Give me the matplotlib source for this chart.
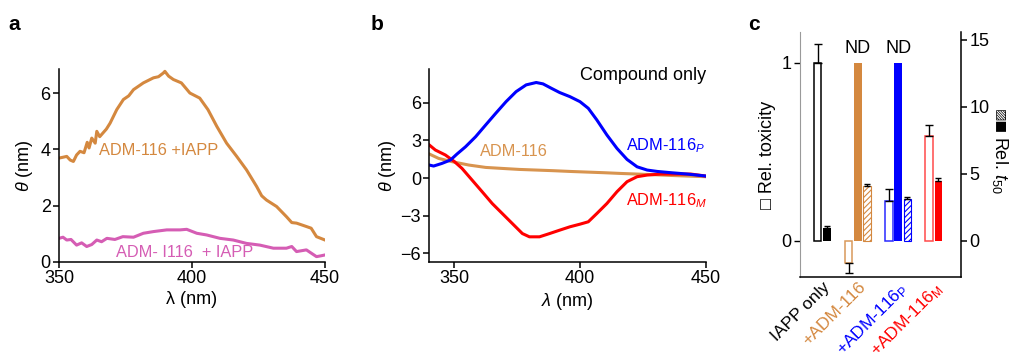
import matplotlib
matplotlib.use("Agg")
import matplotlib.pyplot as plt
import numpy as np

plt.rcParams['font.family'] = ['Liberation Sans', 'DejaVu Sans']
plt.rcParams['mathtext.fontset'] = 'custom'
plt.rcParams['mathtext.rm'] = 'Liberation Sans'
plt.rcParams['mathtext.it'] = 'Liberation Sans:italic'
plt.rcParams['mathtext.bf'] = 'Liberation Sans:bold'
plt.rcParams['hatch.linewidth'] = 0.8

# ---------------- data: panel a ----------------
a_wl_orange = [350, 351.5, 352.9, 354.2, 355.4, 356.6, 357.9, 359.4, 360.6, 361.3, 362.3,
               363.6, 364.2, 365.3, 366.5, 367.8, 369.2, 371.7, 374.2, 376.2, 378, 381.7,
               385.5, 387.4, 389.2, 389.8, 391.2, 393, 396, 399.2, 402.9, 406, 409.3, 413,
               416.8, 420.5, 424.3, 426.2, 428, 431.8, 435.5, 437.5, 439.3, 443, 444.8,
               446.8, 450]
a_th_orange = [3.69, 3.72, 3.75, 3.62, 3.57, 3.80, 3.93, 3.88, 4.25, 4.05, 4.40,
               4.22, 4.64, 4.45, 4.58, 4.72, 4.93, 5.41, 5.77, 5.90, 6.12, 6.36,
               6.54, 6.58, 6.71, 6.77, 6.60, 6.48, 6.36, 6.00, 5.82, 5.41, 4.82, 4.22,
               3.75, 3.27, 2.68, 2.35, 2.20, 1.97, 1.61, 1.40, 1.38, 1.26, 1.20,
               0.90, 0.78]
a_wl_magenta = [350, 351.5, 352.9, 354.5, 356.6, 358.5, 360.4, 362.3, 364.2, 366, 368, 371,
                374, 378, 381.7, 385.5, 390.5, 395.5, 398, 401.8, 405.5, 410.5, 415.5,
                420.5, 425.5, 430.6, 435.5, 437.5, 439.3, 443, 446.8, 448.5, 450]
a_th_magenta = [0.84, 0.88, 0.78, 0.80, 0.60, 0.68, 0.55, 0.62, 0.78, 0.72, 0.84, 0.80,
                0.90, 0.88, 1.02, 1.08, 1.14, 1.14, 1.16, 1.02, 0.96, 0.84, 0.78,
                0.66, 0.60, 0.49, 0.49, 0.55, 0.37, 0.43, 0.19, 0.22, 0.25]

# ---------------- data: panel b ----------------
b_wl_blue = [340, 341.7, 345, 348.4, 351, 354.4, 358.4, 362.4, 366.4, 370.5, 374.5, 378.5,
             382.5, 385.2, 388.5, 391.8, 395.9, 399.9, 403.2, 406.6, 410.6, 414.6, 418.6,
             422.6, 426.6, 430.6, 436, 442.6, 450]
b_th_blue = [1.04, 0.96, 1.17, 1.44, 1.92, 2.50, 3.30, 4.24, 5.17, 6.10, 6.90, 7.44,
             7.63, 7.52, 7.17, 6.83, 6.50, 6.10, 5.57, 4.64, 3.44, 2.37, 1.49,
             0.90, 0.64, 0.53, 0.43, 0.32, 0.16]
b_wl_red = [340, 342.4, 346.4, 350, 353, 357, 361, 365, 369, 373, 377, 379.8, 383.8, 387.8,
            391.8, 395.9, 399.9, 403.2, 406.6, 410.6, 414.6, 418.6, 422.6, 426.6, 432,
            438.6, 444, 450]
b_th_red = [2.64, 2.24, 1.84, 1.31, 0.77, -0.16, -1.09, -2.03, -2.83, -3.63, -4.43, -4.69,
            -4.69, -4.43, -4.16, -3.89, -3.68, -3.49, -2.83, -2.03, -1.09, -0.29, 0.11,
            0.24, 0.32, 0.32, 0.32, 0.16]
b_wl_orange = [340, 343.7, 349, 355.7, 362.4, 369, 375.8, 382.5, 389.2, 395.9, 402.5,
               409.2, 416, 422.6, 429.3, 436, 442.6, 450]
b_th_orange = [1.92, 1.57, 1.31, 1.04, 0.85, 0.77, 0.69, 0.64, 0.59, 0.53, 0.48,
               0.43, 0.37, 0.32, 0.27, 0.21, 0.16, 0.11]

# ---------------- data: panel c ----------------
c_groups = ['IAPP only', '+ADM-116', '+ADM-116$_{\\mathrm{P}}$', '+ADM-116$_{\\mathrm{M}}$']
c_tox = [1.0, -0.123, 0.222, 0.586]           # Rel. toxicity (left axis)
c_tox_err = [0.105, 0.06, 0.068, 0.064]
c_t50_solid = [0.97, None, None, 4.47]        # Rel. t50 solid bars (None = ND)
c_t50_solid_err = [0.12, 0, 0, 0.22]
c_t50_hatched = [None, 4.1, 3.15, None]       # Rel. t50 hatched bars
c_t50_hatched_err = [None, 0.1, 0.13, None]
c_nd_height = 1.0                             # ND bars reach 1 on toxicity axis

ORANGE = '#D4883F'
MAGENTA = '#D55DB4'
BLUE = '#0000FF'
RED = '#FF0000'
c_colors = ['black', ORANGE, BLUE, RED]
c_open_edge = ['black', '#D9995A', '#2A2AFF', '#FF4A4A']

FS_TICK = 13
FS_TXT = 11.8

fig = plt.figure(figsize=(10.09, 3.52), dpi=100)

def style(ax):
    for s in ['top', 'right']:
        ax.spines[s].set_visible(False)
    for s in ['left', 'bottom']:
        ax.spines[s].set_linewidth(1.1)
    ax.tick_params(direction='out', length=4, width=1.1, labelsize=FS_TICK, pad=2)

# ---- panel a ----
axa = fig.add_axes([0.0585, 0.2557, 0.2636, 0.548])
style(axa)
axa.plot(a_wl_orange, a_th_orange, color=ORANGE, lw=2.2)
axa.plot(a_wl_magenta, a_th_magenta, color=MAGENTA, lw=2.2)
axa.set_xlim(350, 450)
axa.set_ylim(0, 6.85)
axa.set_xticks([350, 400, 450])
axa.set_yticks([0, 2, 4, 6])
axa.set_xlabel('λ (nm)', fontsize=FS_TICK, labelpad=3)
axa.set_ylabel('$\\theta$ (nm)', fontsize=FS_TICK, labelpad=4)
axa.text(365, 3.95, 'ADM-116 +IAPP', color=ORANGE, fontsize=FS_TXT, va='center', ha='left')
axa.text(371.5, 0.35, 'ADM- I116  + IAPP', color=MAGENTA, fontsize=FS_TXT, va='center', ha='left')
fig.text(0.008, 0.93, 'a', fontsize=15, fontweight='bold', va='center')

# ---- panel b ----
axb = fig.add_axes([0.4255, 0.2557, 0.2742, 0.548])
style(axb)
axb.plot(b_wl_orange, b_th_orange, color='#D8944F', lw=2.2)
axb.plot(b_wl_red, b_th_red, color=RED, lw=2.2)
axb.plot(b_wl_blue, b_th_blue, color=BLUE, lw=2.2)
axb.set_xlim(340, 450)
axb.set_ylim(-6.7, 8.7)
axb.set_xticks([350, 400, 450])
axb.set_yticks([-6, -3, 0, 3, 6])
axb.set_yticklabels(['\u22126', '\u22123', '0', '3', '6'])
axb.set_xlabel('$\\lambda$ (nm)', fontsize=FS_TICK, labelpad=3)
axb.set_ylabel('$\\theta$ (nm)', fontsize=FS_TICK, labelpad=2)
axb.text(450, 8.2, 'Compound only', fontsize=FS_TICK, ha='right', va='center')
axb.text(360, 2.1, 'ADM-116', color='#D8944F', fontsize=FS_TXT, va='center')
axb.text(418, 2.6, 'ADM-116$_P$', color=BLUE, fontsize=FS_TXT, va='center')
axb.text(418, -1.8, 'ADM-116$_M$', color=RED, fontsize=FS_TXT, va='center')
fig.text(0.367, 0.93, 'b', fontsize=15, fontweight='bold', va='center')

# ---- panel c ----
axc = fig.add_axes([0.7929, 0.2139, 0.1596, 0.6943])
for s in ['top', 'right']:
    axc.spines[s].set_visible(False)
axc.spines['bottom'].set_linewidth(1.1)
axc.spines['left'].set_linewidth(0.8)
axc.spines['left'].set_color('#9a9a9a')
axc2 = axc.twinx()
for s in ['top', 'left', 'bottom']:
    axc2.spines[s].set_visible(False)
axc2.spines['right'].set_linewidth(1.1)

ylo, yhi = -0.202, 1.17
scale = 13.3
axc.set_ylim(ylo, yhi)
axc2.set_ylim(ylo * scale, yhi * scale)
axc.set_xlim(0, 20)

# compute bar positions from group structure
width = 0.95
step = 1.15
gap = 2.7
pos = 2.19
centers = []
for i in range(len(c_groups)):
    nb = 2 if (c_t50_hatched[i] is None) else 3
    xs = [pos + k * step for k in range(nb)]
    centers.append(np.mean(xs) if nb == 2 else xs[1])
    col = c_colors[i]
    t = c_tox[i]
    e = c_tox_err[i]
    axc.bar(xs[0], t, width=width, facecolor='white', edgecolor=c_open_edge[i], lw=1.1, zorder=2)
    if t >= 0:
        axc.errorbar(xs[0], t, yerr=[[0], [e]], color='black', lw=1, capsize=3, capthick=1, zorder=3)
    else:
        axc.errorbar(xs[0], t, yerr=[[e], [0]], color='black', lw=1, capsize=3, capthick=1, zorder=3)
    if c_t50_solid[i] is None:
        axc.bar(xs[1], c_nd_height, width=width, color=col, lw=0, zorder=2)
        axc.text(xs[1], c_nd_height + 0.03, 'ND', fontsize=FS_TICK, ha='center', va='bottom')
    else:
        axc2.bar(xs[1], c_t50_solid[i], width=width, color=col, lw=0, zorder=2)
        axc2.errorbar(xs[1], c_t50_solid[i], yerr=[[0], [c_t50_solid_err[i]]], color='black',
                      lw=1, capsize=2.5, capthick=1, zorder=3)
    if c_t50_hatched[i] is not None:
        axc2.bar(xs[2], c_t50_hatched[i], width=width, facecolor='white', edgecolor=col,
                 hatch='//////', lw=0.8, zorder=2)
        axc2.errorbar(xs[2], c_t50_hatched[i], yerr=[[0], [c_t50_hatched_err[i]]], color='black',
                      lw=1, capsize=2.5, capthick=1, zorder=3)
    pos = xs[-1] + gap

axc.set_yticks([0, 1])
axc.tick_params(axis='y', direction='out', length=4, width=1.0, labelsize=FS_TICK, pad=2)
axc2.set_yticks([0, 5, 10, 15])
axc2.tick_params(axis='y', direction='out', length=4, width=1.1, labelsize=FS_TICK, pad=2)
axc.set_xticks(centers)
axc.set_xticklabels(c_groups, rotation=45, ha='right', rotation_mode='anchor', fontsize=12.5)
for lab, col in zip(axc.get_xticklabels(), c_colors):
    lab.set_color(col)
axc.tick_params(axis='x', length=0, pad=2)
axc.set_ylabel('\u25a1 Rel. toxicity', fontsize=FS_TICK, labelpad=4)
# right-axis label: hatched + solid squares followed by "Rel. t50"
fig.text(0.991, 0.69, '\u25a8\u25a0', fontsize=9.5, rotation=270, family=['DejaVu Sans'],
         ha='center', va='top')
fig.text(0.991, 0.615, 'Rel. $t_{50}$', fontsize=FS_TICK, rotation=270, ha='center', va='top')
fig.text(0.741, 0.93, 'c', fontsize=15, fontweight='bold', va='center')

fig.savefig('out.png', dpi=100)
